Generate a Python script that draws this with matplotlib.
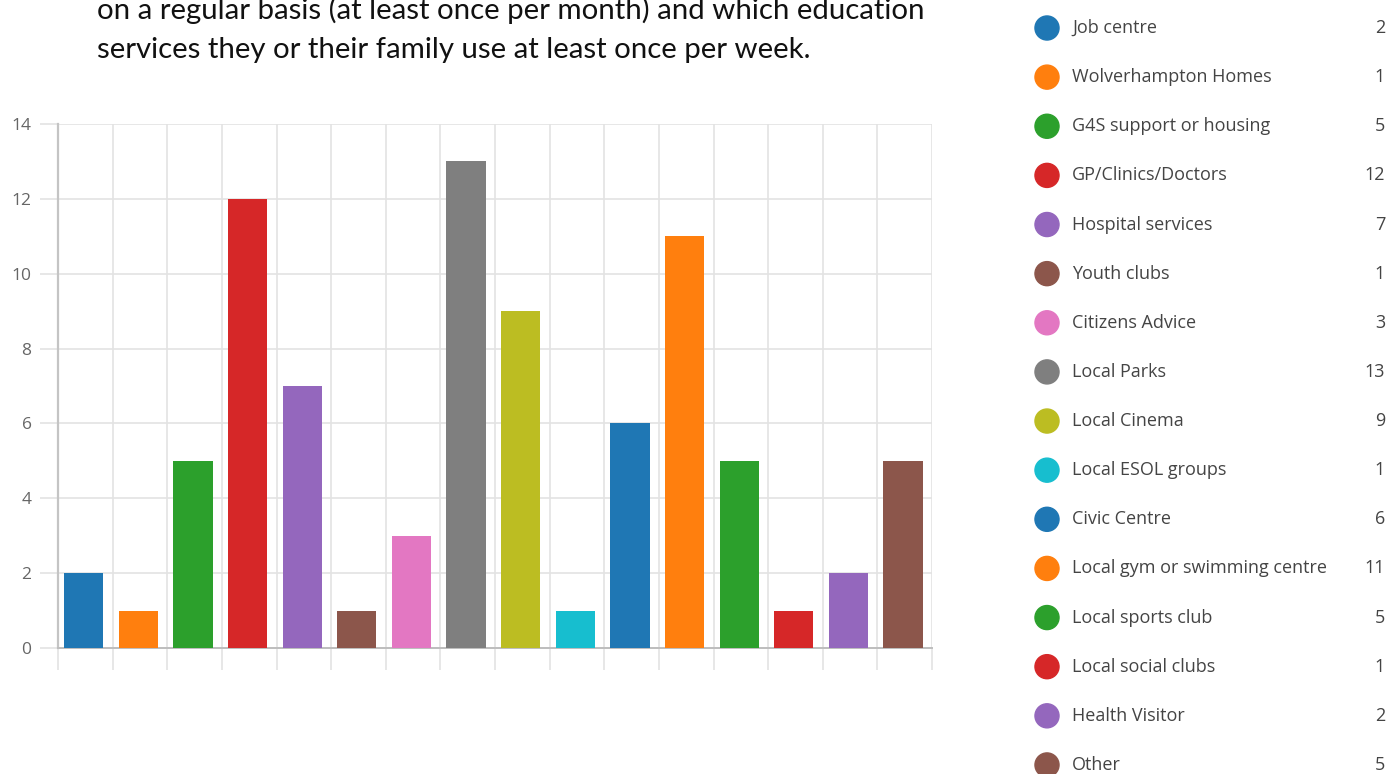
import matplotlib
matplotlib.use('Agg')
import matplotlib.pyplot as plt
import numpy as np

# services and how many people use them
services = ['Job centre', 'Wolverhampton Homes', 'G4S support or housing',
            'GP/Clinics/Doctors', 'Hospital services', 'Youth clubs',
            'Citizens Advice', 'Local Parks', 'Local Cinema', 'Local ESOL groups',
            'Civic Centre', 'Local gym or swimming centre', 'Local sports club',
            'Local social clubs', 'Health Visitor', 'Other']
counts = [2, 1, 5, 12, 7, 1, 3, 13, 9, 1, 6, 11, 5, 1, 2, 5]

palette = ['#1f77b4', '#ff7f0e', '#2ca02c', '#d62728', '#9467bd', '#8c564b',
           '#e377c2', '#7f7f7f', '#bcbd22', '#17becf']
colors = [palette[i % len(palette)] for i in range(len(services))]

W, H = 1392, 774
fig = plt.figure(figsize=(W / 100, H / 100), dpi=100)

# heading text above the chart
fig.text(97 / W, 1 - 10 / H, 'on a regular basis (at least once per month) and which education',
         fontsize=21.2, family='Lato', va='center', ha='left', color='#111111')
fig.text(97 / W, 1 - 50 / H, 'services they or their family use at least once per week.',
         fontsize=21.2, family='Lato', va='center', ha='left', color='#111111')

# bar chart
ax = fig.add_axes([58 / W, 1 - 648 / H, (932 - 58) / W, (648 - 124) / H])
x = np.arange(len(services))
ax.bar(x - 0.03, counts, width=0.72, color=colors, zorder=3)
ax.set_xlim(-0.5, len(services) - 0.5)
ax.set_ylim(0, 14)
ax.set_yticks(range(0, 15, 2))
ax.set_xticks(np.arange(-0.5, len(services), 1.0))
ax.set_xticklabels([])
ax.grid(True, color='#e3e3e3', linewidth=1.2, zorder=0)
ax.tick_params(axis='x', length=16, color='#e3e3e3', width=1.2)
ax.tick_params(axis='y', length=13, color='#e3e3e3', width=1.2, pad=6,
               labelsize=12.5, labelcolor='#666666')
for lab in ax.get_yticklabels():
    lab.set_family('Open Sans')
for side in ['top', 'right']:
    ax.spines[side].set_visible(False)
ax.spines['left'].set_color('#c4c4c4')
ax.spines['left'].set_linewidth(1.6)
ax.spines['bottom'].set_color('#bdbdbd')
ax.spines['bottom'].set_linewidth(1.4)

# legend list on the right with counts
lg = fig.add_axes([1030 / W, 0, (W - 1030) / W, 1])
lg.set_xlim(0, W - 1030)
lg.set_ylim(H, 0)
lg.axis('off')
rows = 28 + 49.13 * np.arange(len(services))
lg.scatter(np.full(len(services), 17), rows, s=300, c=colors, clip_on=False)
for yy, name, n in zip(rows, services, counts):
    lg.text(42, yy, name, fontsize=13, family='Open Sans', color='#444444',
            va='center', ha='left')
    lg.text(355, yy, str(n), fontsize=13, family='Open Sans', color='#444444',
            va='center', ha='right')

fig.savefig('out.png', dpi=100)
